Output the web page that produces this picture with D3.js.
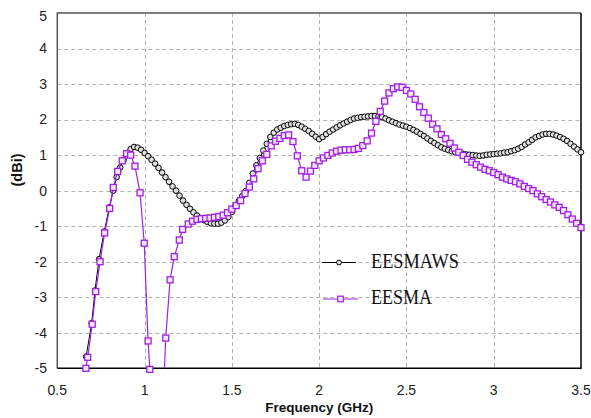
<!DOCTYPE html>
<html>
<head>
<meta charset="utf-8">
<script src="https://cdn.jsdelivr.net/npm/d3@7"></script>
<style>
body { margin: 0; background: #fff; }
</style>
</head>
<body>
<div id="graph"></div>
<script>
// EESMAWS: first points are irregular (steep edge), the rest every 0.02 GHz
var wsHeadFreq = [0.665, 0.697, 0.716, 0.739, 0.769, 0.798];
var wsHeadGain = [-4.67, -3.73, -2.81, -1.93, -1.15, -0.47];
var wsTailStart = 0.82, wsStep = 0.02;
var wsTailGain = [
    0.00, 0.38, 0.65, 0.87, 1.06, 1.17, 1.23, 1.21, 1.15, 1.06,
    0.97, 0.87, 0.76, 0.64, 0.51, 0.38, 0.25, 0.12, 0.00, -0.14,
    -0.28, -0.40, -0.51, -0.61, -0.70, -0.77, -0.83, -0.88, -0.92, -0.93,
    -0.93, -0.90, -0.84, -0.74, -0.60, -0.44, -0.29, -0.15, -0.01, 0.22,
    0.48, 0.71, 0.92, 1.13, 1.32, 1.51, 1.63, 1.72, 1.77, 1.82,
    1.85, 1.87, 1.88, 1.85, 1.80, 1.74, 1.68, 1.60, 1.52, 1.45,
    1.51, 1.59, 1.66, 1.72, 1.78, 1.84, 1.89, 1.94, 1.99, 2.03,
    2.05, 2.07, 2.08, 2.09, 2.10, 2.10, 2.09, 2.07, 2.03, 1.98,
    1.94, 1.90, 1.86, 1.83, 1.80, 1.76, 1.71, 1.66, 1.60, 1.54,
    1.47, 1.40, 1.34, 1.28, 1.22, 1.18, 1.14, 1.11, 1.08, 1.06,
    1.04, 1.02, 1.01, 1.00, 0.99, 0.98, 0.99, 1.01, 1.02, 1.03,
    1.04, 1.05, 1.07, 1.08, 1.11, 1.14, 1.18, 1.23, 1.30, 1.36,
    1.43, 1.50, 1.54, 1.58, 1.60, 1.60, 1.58, 1.55, 1.51, 1.46,
    1.40, 1.32, 1.24, 1.16, 1.08
];

// EESMA: irregular up to 1.218 GHz (deep notch below -5), then every 0.025 GHz
var maHeadFreq = [0.664, 0.674, 0.700, 0.720, 0.745, 0.771, 0.800, 0.821, 0.846, 0.872,
    0.897, 0.920, 0.945, 0.974, 0.998, 1.020, 1.030, 1.050, 1.075, 1.098,
    1.121, 1.146, 1.170, 1.199, 1.218];
var maHeadGain = [-5.00, -4.69, -3.76, -2.84, -2.00, -1.19, -0.50, 0.09, 0.54, 0.84,
    1.04, 1.00, 0.69, -0.06, -1.48, -4.23, -5.03, -9.00, -10.50, -7.00,
    -4.15, -2.51, -1.86, -1.39, -1.09];
var maTailStart = 1.25, maStep = 0.025;
var maTailGain = [
    -0.94, -0.86, -0.81, -0.79, -0.78, -0.77, -0.75, -0.73, -0.69, -0.62,
    -0.52, -0.42, -0.28, -0.08, 0.10, 0.33, 0.62, 0.84, 1.02, 1.26,
    1.39, 1.47, 1.55, 1.57, 1.38, 0.98, 0.56, 0.38, 0.55, 0.71,
    0.84, 0.92, 0.99, 1.06, 1.11, 1.14, 1.15, 1.15, 1.16, 1.19,
    1.27, 1.40, 1.62, 1.95, 2.23, 2.52, 2.75, 2.87, 2.92, 2.91,
    2.82, 2.72, 2.57, 2.36, 2.20, 2.04, 1.87, 1.74, 1.58, 1.46,
    1.33, 1.20, 1.08, 0.99, 0.88, 0.80, 0.73, 0.66, 0.60, 0.56,
    0.51, 0.45, 0.38, 0.33, 0.29, 0.25, 0.19, 0.12, 0.06, 0.00,
    -0.09, -0.17, -0.25, -0.32, -0.40, -0.47, -0.56, -0.68, -0.80, -0.92,
    -1.04
];

var xTicks = [0.5, 1, 1.5, 2, 2.5, 3, 3.5];
var yTicks = [-5, -4, -3, -2, -1, 0, 1, 2, 3, 4, 5];
var seriesNames = ["EESMAWS", "EESMA"];

function buildSeries(headF, headG, start, step, tailG){
    var pts = headF.map(function(f, i){ return {f: f, g: headG[i]}; });
    tailG.forEach(function(g, i){
        pts.push({f: +(start + i * step).toFixed(3), g: g});
    });
    return pts;
}

var wsData = buildSeries(wsHeadFreq, wsHeadGain, wsTailStart, wsStep, wsTailGain);
var maData = buildSeries(maHeadFreq, maHeadGain, maTailStart, maStep, maTailGain);

var W = 591, H = 418;
var m = {left: 57.3, right: 581, top: 13, bottom: 368.3};
var purple = "#a020e0";

var x = d3.scaleLinear().domain([0.5, 3.5]).range([m.left, m.right]);
var y = d3.scaleLinear().domain([-5, 5]).range([m.bottom, m.top]);

var svg = d3.select("#graph").append("svg")
    .attr("width", W)
    .attr("height", H)
    .style("font-family", "'Liberation Sans', Arial, sans-serif");

svg.append("rect").attr("width", W).attr("height", H).attr("fill", "#fff");

svg.append("defs").append("clipPath").attr("id", "plotclip")
    .append("rect")
    .attr("x", m.left).attr("y", m.top)
    .attr("width", m.right - m.left).attr("height", m.bottom - m.top);

// grid
var grid = svg.append("g")
    .attr("stroke", "#b4b4b4")
    .attr("stroke-width", 1)
    .attr("stroke-dasharray", "4,3");
grid.selectAll(".vg")
    .data(xTicks.slice(1, -1))
    .enter().append("line")
    .attr("x1", function(d){ return Math.round(x(d)) + 0.5; })
    .attr("x2", function(d){ return Math.round(x(d)) + 0.5; })
    .attr("y1", m.top).attr("y2", m.bottom);
grid.selectAll(".hg")
    .data(yTicks.slice(1, -1))
    .enter().append("line")
    .attr("y1", function(d){ return Math.round(y(d)) + 0.5; })
    .attr("y2", function(d){ return Math.round(y(d)) + 0.5; })
    .attr("x1", m.left).attr("x2", m.right);

// frame
svg.append("path")
    .attr("fill", "none").attr("stroke", "#555").attr("stroke-width", 1.5)
    .attr("d", "M" + m.left + "," + m.bottom + "V" + m.top + "H" + m.right);
svg.append("path")
    .attr("fill", "none").attr("stroke", "#000").attr("stroke-width", 1.5)
    .attr("d", "M" + m.right + "," + m.top + "V" + m.bottom + "H" + m.left);

// tick labels
svg.append("g").selectAll("text")
    .data(xTicks)
    .enter().append("text")
    .attr("x", function(d){ return x(d); })
    .attr("y", 395)
    .attr("text-anchor", "middle")
    .attr("font-size", 14)
    .attr("fill", "#222")
    .text(function(d){ return d; });

svg.append("g").selectAll("text")
    .data(yTicks)
    .enter().append("text")
    .attr("x", 47)
    .attr("y", function(d){ return y(d) + (d == 5 ? 3 : 0); })
    .attr("dy", "0.35em")
    .attr("text-anchor", "end")
    .attr("font-size", 14)
    .attr("fill", "#222")
    .text(function(d){ return d; });

// axis titles
svg.append("text")
    .attr("x", (m.left + m.right) / 2)
    .attr("y", 412)
    .attr("text-anchor", "middle")
    .attr("font-size", 13.5)
    .attr("font-weight", "bold")
    .attr("fill", "#111")
    .text("Frequency (GHz)");

svg.append("text")
    .attr("transform", "translate(22,170) rotate(-90)")
    .attr("text-anchor", "middle")
    .attr("font-size", 14.5)
    .attr("font-weight", "bold")
    .attr("fill", "#111")
    .text("(dBi)");

var line = d3.line()
    .x(function(d){ return x(d.f); })
    .y(function(d){ return y(d.g); });

var plot = svg.append("g");

// EESMAWS
plot.append("path")
    .attr("clip-path", "url(#plotclip)")
    .attr("fill", "none")
    .attr("stroke", "#000")
    .attr("stroke-width", 1)
    .attr("d", line(wsData));
plot.selectAll(".ws")
    .data(wsData)
    .enter().append("circle")
    .attr("cx", function(d){ return x(d.f); })
    .attr("cy", function(d){ return y(d.g); })
    .attr("r", 2.8)
    .attr("fill", "#e0e0e0")
    .attr("stroke", "#000")
    .attr("stroke-width", 1);

// EESMA
plot.append("path")
    .attr("clip-path", "url(#plotclip)")
    .attr("fill", "none")
    .attr("stroke", purple)
    .attr("stroke-width", 1.2)
    .attr("d", line(maData));
plot.selectAll(".ma")
    .data(maData.filter(function(d){ return d.g >= -5.1; }))
    .enter().append("rect")
    .attr("x", function(d){ return x(d.f) - 3; })
    .attr("y", function(d){ return y(d.g) - 3; })
    .attr("width", 6)
    .attr("height", 6)
    .attr("fill", "#f4e8fc")
    .attr("stroke", purple)
    .attr("stroke-width", 1.3);

// legend
var legend = svg.append("g");
var lg = [
    {name: seriesNames[0], x1: 322, x2: 356, y: 262.5, ty: 268.3, color: "#000", tl: 88},
    {name: seriesNames[1], x1: 323, x2: 358, y: 299, ty: 304.3, color: purple, tl: 61}
];
legend.selectAll("line")
    .data(lg)
    .enter().append("line")
    .attr("x1", function(d){ return d.x1; })
    .attr("x2", function(d){ return d.x2; })
    .attr("y1", function(d){ return d.y; })
    .attr("y2", function(d){ return d.y; })
    .attr("stroke", function(d){ return d.color; })
    .attr("stroke-width", 1.2);
legend.append("circle")
    .attr("cx", (lg[0].x1 + lg[0].x2) / 2)
    .attr("cy", lg[0].y)
    .attr("r", 2.4)
    .attr("fill", "#e0e0e0")
    .attr("stroke", "#000");
legend.append("rect")
    .attr("x", (lg[1].x1 + lg[1].x2) / 2 - 2.8)
    .attr("y", lg[1].y - 2.8)
    .attr("width", 5.6).attr("height", 5.6)
    .attr("fill", "#f4e8fc")
    .attr("stroke", purple)
    .attr("stroke-width", 1.2);
legend.selectAll("text")
    .data(lg)
    .enter().append("text")
    .attr("x", 371)
    .attr("y", function(d){ return d.ty; })
    .attr("font-family", "'Liberation Serif', 'Times New Roman', serif")
    .attr("font-size", 20)
    .attr("textLength", function(d){ return d.tl; })
    .attr("lengthAdjust", "spacingAndGlyphs")
    .attr("fill", "#111")
    .text(function(d){ return d.name; });
</script>
</body>
</html>
